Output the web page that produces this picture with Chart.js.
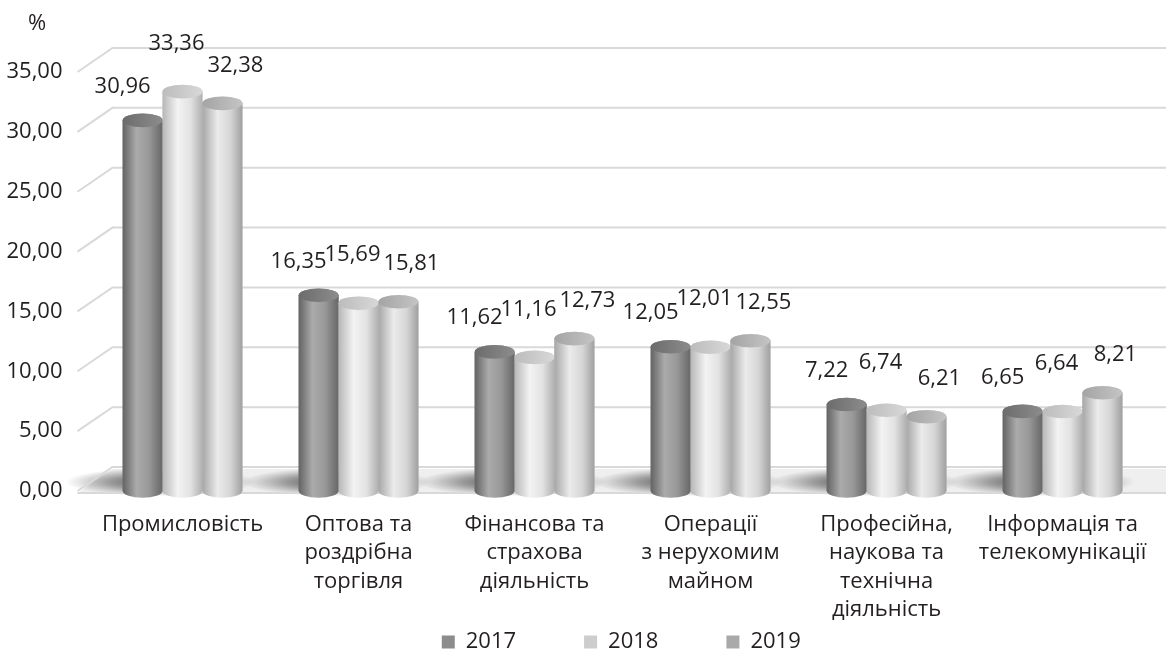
<!DOCTYPE html>
<html><head><meta charset="utf-8">
<script src="https://cdn.jsdelivr.net/npm/chart.js@4"></script>
<style>html,body{margin:0;padding:0;background:#fff;}#wrap{width:1166px;height:657px;}</style>
</head><body><div id="wrap"><canvas id="c" width="1166" height="657"></canvas></div>
<script>
const categories = [
  ['Промисловість'],
  ['Оптова та', 'роздрібна', 'торгівля'],
  ['Фінансова та', 'страхова', 'діяльність'],
  ['Операції', 'з нерухомим', 'майном'],
  ['Професійна,', 'наукова та', 'технічна', 'діяльність'],
  ['Інформація та', 'телекомунікації']
];
const seriesNames = ['2017', '2018', '2019'];
const values2017 = [30.96, 16.35, 11.62, 12.05, 7.22, 6.65];
const values2018 = [33.36, 15.69, 11.16, 12.01, 6.74, 6.64];
const values2019 = [32.38, 15.81, 12.73, 12.55, 6.21, 8.21];
const yTickLabels = ['0,00', '5,00', '10,00', '15,00', '20,00', '25,00', '30,00', '35,00'];
const unitLabel = '%';

const FONT = "'Open Sans', 'Noto Sans', sans-serif";
const FS = 22;
const TXT = '#231f20';
const legendColors = ['#8c8c8c', '#cdcdcd', '#a9a9a9'];
const bodyStops = [
  [[0, '#636363'], [0.35, '#ababab'], [0.65, '#999999'], [1, '#676767']],
  [[0, '#b7b7b7'], [0.38, '#f3f3f3'], [0.7, '#e2e2e2'], [1, '#b0b0b0']],
  [[0, '#a7a7a7'], [0.38, '#ebebeb'], [0.7, '#d6d6d6'], [1, '#a0a0a0']]
];
const capColors = [['#6c6c6c', '#8c8c8c'], ['#bcbcbc', '#d8d8d8'], ['#a4a4a4', '#c4c4c4']];
const labelShiftX = [-20, -6, 13];
const labelShiftY = [-34, -48, -38];
const fmt = v => v.toFixed(2).replace('.', ',');

const wallPlugin = {
  id: 'wall',
  afterLayout(chart) {
    const lg = chart.legend;
    if (lg) {
      const h = lg.bottom - lg.top;
      lg.top = 563; lg.bottom = 563 + h;
      lg.left += 43; lg.right += 43;
    }
  },
  beforeDatasetsDraw(chart) {
    const {ctx, chartArea, scales: {x, y}} = chart;
    const dx = 35, dy = 24, x0 = chartArea.left - 17, W = chart.width;
    const yb = y.getPixelForValue(0);
    ctx.save();
    // floor
    ctx.beginPath();
    ctx.moveTo(x0, yb + 2); ctx.lineTo(x0 + dx, yb + 2 - dy);
    ctx.lineTo(W, yb + 2 - dy); ctx.lineTo(W, yb + 2); ctx.closePath();
    ctx.fillStyle = '#efefef'; ctx.fill();
    // shadows
    x.ticks.forEach((t, i) => {
      const cx = x.getPixelForValue(i) - 22, cy = yb - 9;
      ctx.save();
      ctx.translate(cx, cy); ctx.scale(1, 0.15);
      const g = ctx.createRadialGradient(0, 0, 0, 0, 0, 95);
      g.addColorStop(0, 'rgba(30,30,30,0.85)');
      g.addColorStop(0.55, 'rgba(60,60,60,0.45)');
      g.addColorStop(1, 'rgba(90,90,90,0)');
      ctx.fillStyle = g;
      ctx.beginPath(); ctx.arc(0, 0, 95, 0, Math.PI * 2); ctx.fill();
      ctx.restore();
    });
    // grid lines (back wall with perspective)
    ctx.strokeStyle = '#d9d9d9'; ctx.lineWidth = 2;
    y.ticks.forEach(t => {
      const py = y.getPixelForValue(t.value);
      ctx.beginPath();
      ctx.moveTo(x0, py); ctx.lineTo(x0 + dx, py - dy); ctx.lineTo(W, py - dy);
      ctx.stroke();
    });
    // floor front edge
    ctx.beginPath(); ctx.moveTo(x0, yb + 2); ctx.lineTo(W, yb + 2); ctx.stroke();
    ctx.restore();
  }
};

const cylinderPlugin = {
  id: 'cylinders',
  afterDatasetsDraw(chart) {
    const {ctx} = chart;
    const n = chart.data.labels.length;
    ctx.save();
    for (let i = 0; i < n; i++) {
      chart.data.datasets.forEach((ds, d) => {
        const el = chart.getDatasetMeta(d).data[i];
        const {x, y: top, base, width: w} = el;
        const ry = w * 0.17, L = x - w / 2, R = x + w / 2;
        const g = ctx.createLinearGradient(L, 0, R, 0);
        bodyStops[d].forEach(s => g.addColorStop(s[0], s[1]));
        ctx.beginPath();
        ctx.moveTo(L, top); ctx.lineTo(L, base);
        ctx.ellipse(x, base, w / 2, ry, 0, Math.PI, 0, true);
        ctx.lineTo(R, top);
        ctx.ellipse(x, top, w / 2, ry, 0, 0, Math.PI, true);
        ctx.closePath();
        ctx.fillStyle = g; ctx.fill();
        const cg = ctx.createLinearGradient(L, top, R, top);
        cg.addColorStop(0, capColors[d][0]); cg.addColorStop(1, capColors[d][1]);
        ctx.beginPath();
        ctx.ellipse(x, top, w / 2, ry, 0, 0, Math.PI * 2);
        ctx.fillStyle = cg; ctx.fill();
      });
    }
    // value labels
    ctx.fillStyle = TXT; ctx.font = FS + 'px ' + FONT;
    ctx.textAlign = 'center'; ctx.textBaseline = 'middle';
    chart.data.datasets.forEach((ds, d) => {
      chart.getDatasetMeta(d).data.forEach((el, i) => {
        ctx.fillText(fmt(ds.data[i]), el.x + labelShiftX[d], el.y + labelShiftY[d]);
      });
    });
    // unit label
    ctx.fillText(unitLabel, 37, 24);
    ctx.restore();
  }
};

const seriesValues = [values2017, values2018, values2019];
new Chart(document.getElementById('c'), {
  type: 'bar',
  data: {
    labels: categories,
    datasets: seriesNames.map((name, d) => ({
      label: name,
      data: seriesValues[d],
      backgroundColor: legendColors[d],
      borderWidth: 0,
      categoryPercentage: 0.68,
      barPercentage: 1
    }))
  },
  options: {
    responsive: false,
    animation: false,
    layout: {padding: {top: 72, right: 9.5, left: 0, bottom: -75}},
    plugins: {
      legend: {
        position: 'bottom',
        labels: {boxWidth: 13, boxHeight: 13, padding: 68, color: TXT, font: {family: FONT, size: FS}}
      },
      tooltip: {enabled: false}
    },
    scales: {
      x: {
        grid: {display: false, drawTicks: false},
        border: {display: false},
        ticks: {padding: 19, color: TXT, font: {family: FONT, size: FS, lineHeight: 1.3}, maxRotation: 0, autoSkip: false},
        afterFit: s => { s.height = 141; }
      },
      y: {
        min: 0, max: 35,
        grid: {display: false, drawTicks: false},
        border: {display: false},
        ticks: {stepSize: 5, padding: 32, color: TXT, font: {family: FONT, size: FS},
          callback: (v) => yTickLabels[Math.round(v / 5)]},
        afterFit: s => { s.width = 94.5; }
      }
    }
  },
  plugins: [wallPlugin, cylinderPlugin]
});
</script>
</body></html>
